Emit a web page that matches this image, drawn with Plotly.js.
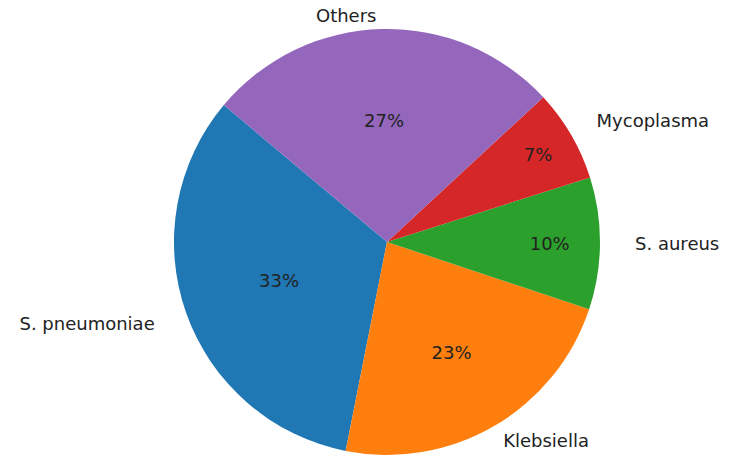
<!DOCTYPE html>
<html>
<head>
<meta charset="utf-8">
<script src="https://cdn.plot.ly/plotly-3.0.1.min.js"></script>
<style>
html,body{margin:0;padding:0;background:#fff;overflow:hidden;width:740px;height:472px;}
#chart{width:740px;height:520px;position:absolute;left:0;top:-24px;}
</style>
</head>
<body>
<div id="chart"></div>
<script>
const labels = ["S. pneumoniae", "Klebsiella", "S. aureus", "Mycoplasma", "Others"];
const values = [33, 23, 10, 7, 27];
const colors = ["#1f77b4", "#ff7f0e", "#2ca02c", "#d62728", "#9467bd"];
const labelPull = [0.13, 0.035, 0.14, 0.11, 0.015];

const W = 740, HL = 520, off = 24;
const cx = 387, cy = 242 + off, r = 213;
function dom(R) {
  return {
    x: [(cx - R) / W, (cx + R) / W],
    y: [1 - (cy + R) / HL, 1 - (cy - R) / HL]
  };
}
const maxPull = Math.max.apply(null, labelPull);
const font = {family: "DejaVu Sans, sans-serif", size: 18, color: "#222"};

const inner = {
  type: "pie",
  labels: labels,
  values: values,
  sort: false,
  direction: "counterclockwise",
  rotation: -168.8,
  marker: {colors: colors, line: {width: 0}},
  texttemplate: "%{percent:.0%}",
  textposition: "inside",
  insidetextorientation: "horizontal",
  textfont: font,
  domain: dom(r),
  hoverinfo: "label+percent",
  automargin: false,
  showlegend: false
};
const outer = {
  type: "pie",
  labels: labels,
  values: values,
  sort: false,
  direction: "counterclockwise",
  rotation: -168.8,
  pull: labelPull,
  marker: {colors: labels.map(() => "rgba(0,0,0,0)"), line: {width: 0}},
  textinfo: "label",
  textposition: "outside",
  textfont: font,
  domain: dom(r * (1 + maxPull)),
  hoverinfo: "skip",
  automargin: false,
  showlegend: false
};

Plotly.newPlot("chart", [inner, outer], {
  width: W, height: HL,
  margin: {l: 0, r: 0, t: 0, b: 0},
  paper_bgcolor: "rgba(0,0,0,0)",
  showlegend: false
}, {displayModeBar: false, staticPlot: true});
</script>
</body>
</html>
